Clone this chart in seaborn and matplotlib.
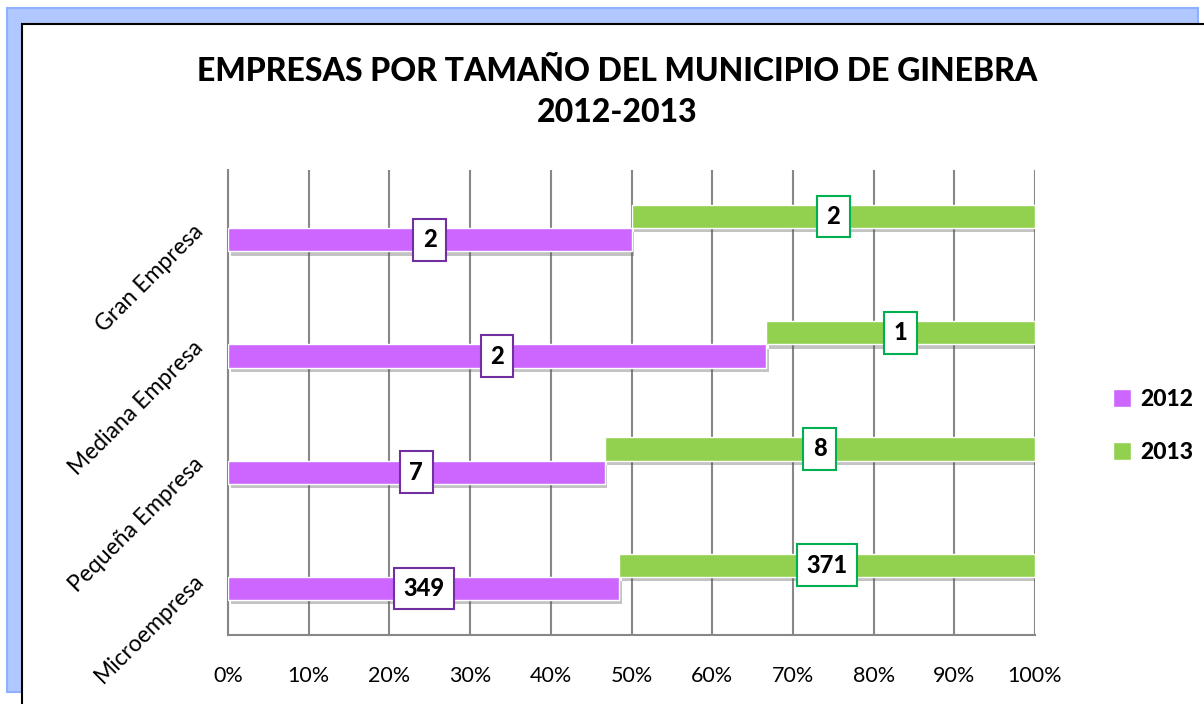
import pandas as pd
import matplotlib.pyplot as plt
import seaborn as sns
from matplotlib.patches import Rectangle, Patch
from matplotlib.ticker import PercentFormatter
import matplotlib.patheffects as pe

categories = ['Gran Empresa', 'Mediana Empresa', 'Pequeña Empresa', 'Microempresa']
empresas_2012 = [2, 2, 7, 349]
empresas_2013 = [2, 1, 8, 371]
x_ticks = [0, .1, .2, .3, .4, .5, .6, .7, .8, .9, 1.0]

color_2012 = '#CC66FF'
color_2013 = '#92D050'
edge_2012 = '#7030A0'
edge_2013 = '#00B050'


def main():
    sns.set_theme(style="white")
    plt.rcParams['font.family'] = ['Lato', 'DejaVu Sans']
    plt.rcParams['text.color'] = 'black'

    totals = [a + b for a, b in zip(empresas_2012, empresas_2013)]
    df = pd.DataFrame({
        'categoria': categories * 2,
        'anio': ['2012'] * 4 + ['2013'] * 4,
        'valor': empresas_2012 + empresas_2013,
        'pct': [v / t for v, t in zip(empresas_2012, totals)] +
               [v / t for v, t in zip(empresas_2013, totals)],
    })

    fig = plt.figure(figsize=(12.04, 7.04), dpi=100)
    W, H = 1204, 704
    # blue outer frame and white chart area (behind the axes)
    fig.patches.append(Rectangle((7 / W, 1 - 692 / H), 1191 / W, 684 / H,
                                 transform=fig.transFigure, fc='#B0C8FF',
                                 ec='#8FB0FF', lw=1.5, zorder=-2))
    fig.patches.append(Rectangle((22 / W, -0.1), 1.2, 1.1 - 24 / H,
                                 transform=fig.transFigure, fc='white',
                                 ec='black', lw=1.5, zorder=-1))

    ax = fig.add_axes([228 / W, 1 - 635 / H, 807 / W, 465 / H])
    ax.set_facecolor('none')

    sns.barplot(data=df, x='pct', y='categoria', hue='anio',
                hue_order=['2013', '2012'], order=categories,
                palette={'2012': color_2012, '2013': color_2013},
                width=0.4, dodge=True, orient='h', legend=False,
                edgecolor='white', linewidth=1, saturation=1, ax=ax)

    shadow = [pe.SimplePatchShadow(offset=(2, -3), shadow_rgbFace='#555555', alpha=0.35),
              pe.Normal()]
    bars_2013, bars_2012 = ax.containers[0], ax.containers[1]
    for i, (b12, b13) in enumerate(zip(bars_2012, bars_2013)):
        b13.set_x(b12.get_width())  # 2013 starts where 2012 ends
        for b in (b12, b13):
            b.set_path_effects(shadow)
            b.set_zorder(3)
        for b, val, ec in ((b12, empresas_2012[i], edge_2012),
                           (b13, empresas_2013[i], edge_2013)):
            ax.text(b.get_x() + b.get_width() / 2, b.get_y() + b.get_height() / 2,
                    str(val), ha='center', va='center', fontsize=17,
                    fontweight='black', color='black', zorder=5,
                    bbox=dict(boxstyle='square,pad=0.4', fc='white', ec=ec, lw=1.5))

    ax.set_xlim(0, 1)
    ax.set_xticks(x_ticks)
    ax.xaxis.set_major_formatter(PercentFormatter(1.0, decimals=0))
    ax.grid(axis='x', color='#878787', lw=1.5, zorder=0)
    ax.set_axisbelow(True)
    for s in ['top', 'right']:
        ax.spines[s].set_visible(False)
    for s in ['left', 'bottom']:
        ax.spines[s].set_color('#878787')
        ax.spines[s].set_linewidth(1.5)
    ax.set_xlabel('')
    ax.set_ylabel('')
    ax.tick_params(axis='x', length=0, pad=22, labelsize=15.5, labelcolor='black')
    ax.tick_params(axis='y', length=0, pad=20, labelsize=16.5, labelcolor='black')
    for lbl in ax.get_yticklabels():
        lbl.set_rotation(45)
        lbl.set_ha('right')
        lbl.set_va('center')
        lbl.set_rotation_mode('anchor')

    fig.text(617 / W, 1 - 92 / H, 'EMPRESAS POR TAMAÑO DEL MUNICIPIO DE GINEBRA\n2012-2013',
             ha='center', va='center', fontsize=23, fontweight='black',
             linespacing=1.5, zorder=3)

    handles = [Patch(fc=color_2012, ec='white', label='2012'),
               Patch(fc=color_2013, ec='white', label='2013')]
    fig.legend(handles=handles, loc='center left', bbox_to_anchor=(1092 / W, 1 - 426 / H),
               frameon=False, handlelength=0.8, handleheight=0.8, handletextpad=0.4,
               labelspacing=1.4, prop={'weight': 'black', 'size': 16.5})

    fig.savefig('out.png', dpi=100)


if __name__ == "__main__":
    main()
